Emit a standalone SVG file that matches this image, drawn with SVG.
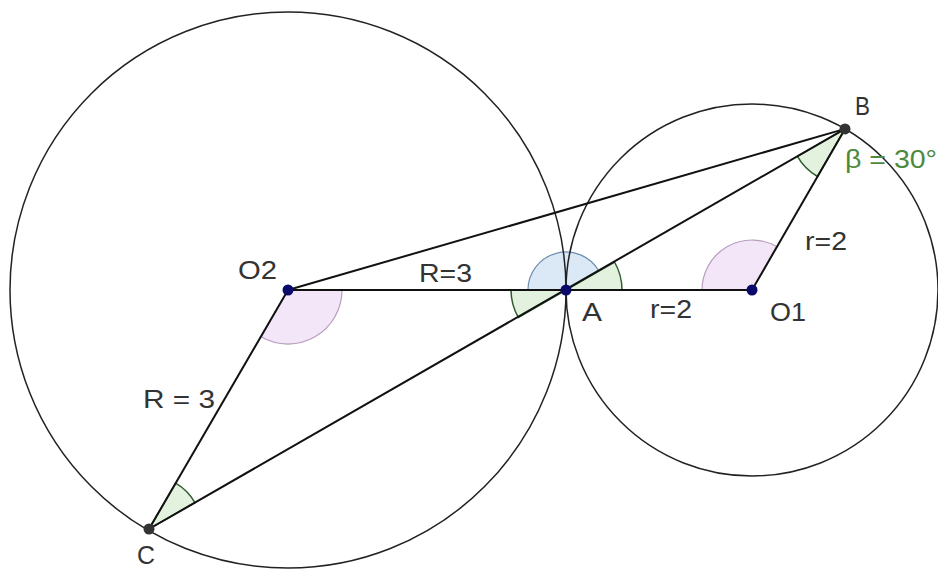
<svg xmlns="http://www.w3.org/2000/svg" width="938" height="571" viewBox="0 0 938 571">
<style>
.circ{fill:none;stroke:#222;stroke-width:1.5}
.seg{stroke:#111;stroke-width:2;fill:none}
.lbl{font-family:"Liberation Sans",Arial,sans-serif;font-size:25px;fill:#333}
.grn{fill:#4d8a3e}
.purple{fill:#f3e6f8;stroke:#b89cc0;stroke-width:1.2}
.blue{fill:#dbe9f7;stroke:#6f8fb0;stroke-width:1.2}
.green{fill:#e3f1df;stroke:#2e5e2e;stroke-width:1.5}
.pt{fill:#0a0a6a}
.pt2{fill:#333}
</style>
<rect width="938" height="571" fill="#fff"/>
<g id="angles">
<path class="purple" d="M342 290 A54 54 0 0 1 261 336.8 L288 290 Z"/>
<path class="purple" d="M702 290 A50 50 0 0 1 777 246.7 L752 290 Z"/>
<path class="blue" d="M528 290 A38 38 0 0 1 598.9 271 L566 290 Z"/>
<path class="green" d="M622 290 A56 56 0 0 0 614.5 262 L566 290 Z"/>
<path class="green" d="M511 290 A55 55 0 0 0 518.4 317.5 L566 290 Z"/>
<path class="green" d="M797.4 156.4 A55 55 0 0 0 817.5 176.5 L845 128.9 Z"/>
<path class="green" d="M175.6 483.2 A53 53 0 0 1 195 502.7 L149 529 Z"/>
</g>
<g id="circles">
<circle id="bigCircle" class="circ" cx="288" cy="290" r="278"/>
<circle id="smallCircle" class="circ" cx="752" cy="290" r="186"/>
</g>
<g id="connectors">
<line class="seg" x1="288" y1="290" x2="752" y2="290"/>
<line class="seg" x1="288" y1="290" x2="845" y2="128.9"/>
<line class="seg" x1="845" y1="128.9" x2="149" y2="529"/>
<line class="seg" x1="752" y1="290" x2="845" y2="128.9"/>
<line class="seg" x1="288" y1="290" x2="149" y2="529"/>
</g>
<g id="O2"><circle class="pt" cx="288" cy="290" r="5.5"/><text class="lbl" x="238" y="279" textLength="39" lengthAdjust="spacingAndGlyphs">O2</text></g>
<g id="A"><circle class="pt" cx="566" cy="290" r="5.5"/><text class="lbl" x="582" y="321" textLength="20" lengthAdjust="spacingAndGlyphs">A</text></g>
<g id="O1"><circle class="pt" cx="752" cy="290" r="5.5"/><text class="lbl" x="770" y="321" textLength="36" lengthAdjust="spacingAndGlyphs">O1</text></g>
<g id="B"><circle class="pt2" cx="845" cy="128.9" r="5.5"/><text class="lbl" x="855" y="115" textLength="15" lengthAdjust="spacingAndGlyphs">B</text></g>
<g id="C"><circle class="pt2" cx="149" cy="529" r="5.5"/><text class="lbl" x="137" y="564" textLength="18" lengthAdjust="spacingAndGlyphs">C</text></g>
<g id="labels">
<text class="lbl" x="419" y="282" textLength="53" lengthAdjust="spacingAndGlyphs">R=3</text>
<text class="lbl" x="143" y="408" textLength="72" lengthAdjust="spacingAndGlyphs">R = 3</text>
<text class="lbl" x="650" y="318" textLength="42" lengthAdjust="spacingAndGlyphs">r=2</text>
<text class="lbl" x="805" y="250" textLength="42" lengthAdjust="spacingAndGlyphs">r=2</text>
<text class="lbl grn" x="845" y="168" textLength="92" lengthAdjust="spacingAndGlyphs">β = 30°</text>
</g>
</svg>
